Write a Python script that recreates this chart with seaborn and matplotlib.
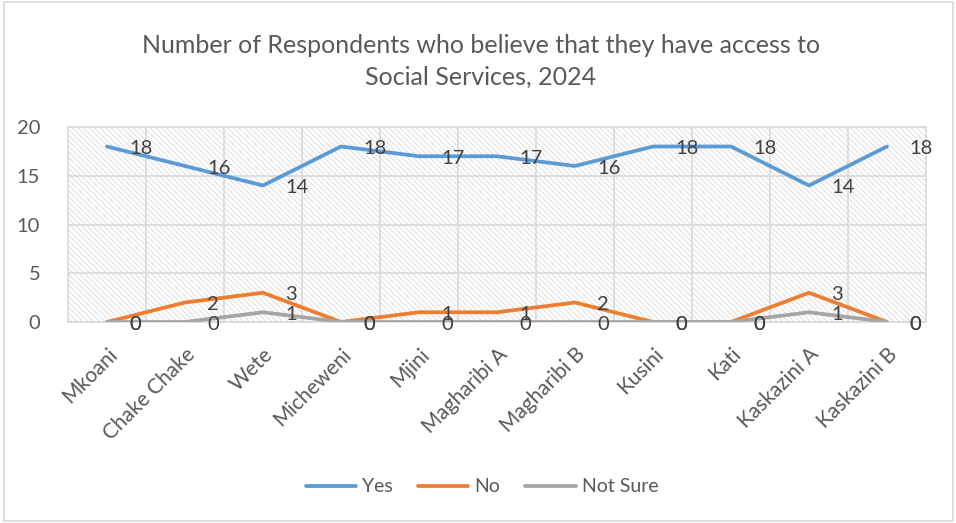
import matplotlib
matplotlib.use("Agg")
import matplotlib.pyplot as plt
import seaborn as sns
import pandas as pd
from matplotlib.patches import Rectangle

categories = ["Mkoani", "Chake Chake", "Wete", "Micheweni", "Mjini", "Magharibi A",
              "Magharibi B", "Kusini", "Kati", "Kaskazini A", "Kaskazini B"]
yes = [18, 16, 14, 18, 17, 17, 16, 18, 18, 14, 18]
no = [0, 2, 3, 0, 1, 1, 2, 0, 0, 3, 0]
not_sure = [0, 0, 1, 0, 0, 0, 0, 0, 0, 1, 0]
series_names = ["Yes", "No", "Not Sure"]
colors = ["#5B9BD5", "#ED7D31", "#A5A5A5"]
title = "Number of Respondents who believe that they have access to\nSocial Services, 2024"

sns.set_theme(style="white")
plt.rcParams["font.family"] = ["Lato", "DejaVu Sans"]
plt.rcParams["hatch.linewidth"] = 0.6
plt.rcParams["hatch.color"] = "#D9D9D9"

rows = []
for name, vals in zip(series_names, [yes, no, not_sure]):
    for i, (c, v) in enumerate(zip(categories, vals)):
        rows.append({"idx": i, "Category": c, "Series": name, "Value": v})
df = pd.DataFrame(rows)

fig = plt.figure(figsize=(9.56, 5.23), dpi=100)
ax = fig.add_axes([68/956, 1-322/523, (926-68)/956, (322-127)/523])

# hatched background
ax.add_patch(Rectangle((0, 0), 1, 1, transform=ax.transAxes, facecolor="white",
                       edgecolor="#D9D9D9", hatch="\\\\\\\\\\\\", linewidth=0, zorder=0))

sns.lineplot(data=df, x="idx", y="Value", hue="Series", palette=colors,
             hue_order=series_names, linewidth=2.7, ax=ax, legend=True, zorder=3)

ax.set_xlim(-0.5, len(categories) - 0.5)
ax.set_ylim(0, 20)
ax.set_yticks([0, 5, 10, 15, 20])
ax.set_xticks(range(len(categories)))
ax.set_xticklabels(categories, rotation=45, ha="right", rotation_mode="anchor",
                   fontsize=15, color="#595959")
ax.set_xticks([i + 0.5 for i in range(len(categories) - 1)], minor=True)
ax.tick_params(axis="y", labelsize=14.5, labelcolor="#595959", length=0, pad=20)
ax.tick_params(axis="x", which="major", length=0, pad=16)
ax.tick_params(axis="x", which="minor", length=0)
ax.grid(True, axis="y", color="#D9D9D9", linewidth=1.2, zorder=1)
ax.grid(True, axis="x", which="minor", color="#D9D9D9", linewidth=1.2, zorder=1)
ax.set_axisbelow(True)
for s in ax.spines.values():
    s.set_color("#D9D9D9")
    s.set_linewidth(1.2)
ax.set_xlabel("")
ax.set_ylabel("")

for vals in [yes, no, not_sure]:
    for i, v in enumerate(vals):
        ax.annotate(str(v), (i, v), xytext=(16, -1.5), textcoords="offset points",
                    ha="left", va="center", fontsize=14.5, color="#404040", zorder=4)

ax.legend_.remove()
handles, labels = ax.get_legend_handles_labels()
fig.legend(handles, labels, loc="center", bbox_to_anchor=(482/956, 1-487/523), ncol=3,
           frameon=False, fontsize=14, handlelength=2.6, columnspacing=1.3,
           handletextpad=0.3, labelcolor="#595959")

fig.text(481/956, 1-61/523, title, ha="center", va="center", fontsize=18,
         color="#595959", linespacing=1.45)

fig.patches.append(Rectangle((4/956, 2/523), (953-4)/956, (521-2)/523,
                             transform=fig.transFigure, fill=False,
                             edgecolor="#D9D9D9", linewidth=1.2))

fig.savefig("out.png", dpi=100)
